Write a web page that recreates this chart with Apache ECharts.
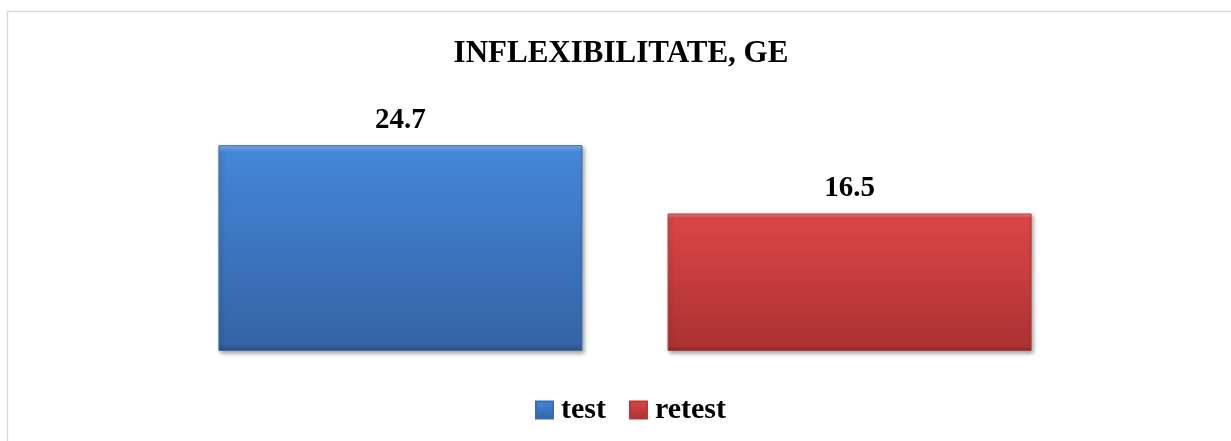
<!DOCTYPE html>
<html>
<head>
<meta charset="utf-8">
<script src="https://cdn.jsdelivr.net/npm/echarts@6/dist/echarts.min.js"></script>
<style>
  html, body { margin: 0; padding: 0; background: #fff; }
  #chart { width: 1231px; height: 441px; }
</style>
</head>
<body>
<div id="chart"></div>
<script>
const categories = ['']
const seriesNames = ['test', 'retest']
const testValues = [24.7]
const retestValues = [16.5]

const serif = "'Liberation Serif', 'Times New Roman', serif"

function bevel(light, top, bottom, dark) {
  return new echarts.graphic.LinearGradient(0, 0, 0, 1, [
    { offset: 0, color: light },
    { offset: 0.035, color: top },
    { offset: 0.965, color: bottom },
    { offset: 1, color: dark }
  ])
}

const chart = echarts.init(document.getElementById('chart'))
chart.setOption({
  backgroundColor: '#fff',
  animation: false,
  graphic: [{
    type: 'rect', silent: true, z: -1,
    shape: { x: 7.5, y: 11.5, width: 1400, height: 600 },
    style: { fill: 'none', stroke: '#d9d9d9', lineWidth: 1.5 }
  }],
  title: {
    text: 'INFLEXIBILITATE, GE',
    left: 616, top: 33, textAlign: 'center',
    textStyle: { fontFamily: serif, fontWeight: 'bold', fontSize: 31, color: '#000' }
  },
  legend: {
    data: seriesNames,
    left: 530, top: 390,
    icon: 'rect', itemWidth: 17, itemHeight: 17, itemGap: 23,
    textStyle: { fontFamily: serif, fontWeight: 'bold', fontSize: 30, color: '#000', padding: [0, 0, 0, 3] }
  },
  grid: { left: 100, right: 81, top: 101, bottom: 90 },
  xAxis: {
    type: 'category', data: categories,
    axisLine: { show: false }, axisTick: { show: false }, axisLabel: { show: false }
  },
  yAxis: {
    type: 'value', min: 0, max: 30,
    axisLine: { show: false }, axisTick: { show: false }, axisLabel: { show: false },
    splitLine: { show: false }
  },
  series: [
    {
      name: seriesNames[0], type: 'bar', data: testValues,
      barWidth: 364, barGap: '23.4%',
      itemStyle: {
        color: bevel('#80b4f2', '#4486d8', '#3464a6', '#2a5088'),
        borderColor: '#3a6db0', borderWidth: 1,
        shadowBlur: 4, shadowColor: 'rgba(0,0,0,0.35)', shadowOffsetX: 2, shadowOffsetY: 2
      },
      label: {
        show: true, position: 'top', distance: 10,
        fontFamily: serif, fontWeight: 'bold', fontSize: 29, color: '#000'
      }
    },
    {
      name: seriesNames[1], type: 'bar', data: retestValues,
      barWidth: 364,
      itemStyle: {
        color: bevel('#f28a8a', '#db4646', '#ac3232', '#8a2626'),
        borderColor: '#b63838', borderWidth: 1,
        shadowBlur: 4, shadowColor: 'rgba(0,0,0,0.35)', shadowOffsetX: 2, shadowOffsetY: 2
      },
      label: {
        show: true, position: 'top', distance: 10,
        fontFamily: serif, fontWeight: 'bold', fontSize: 29, color: '#000'
      }
    }
  ]
})
</script>
</body>
</html>
